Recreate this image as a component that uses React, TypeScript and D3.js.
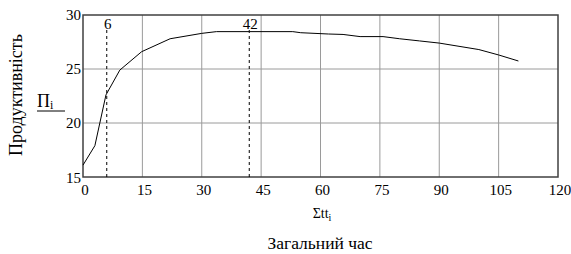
import React, { useEffect, useRef } from 'react';
import * as d3 from 'd3';

// загальний час (Σtt_i) та продуктивність (П_i)
const timeValues = [0, 3, 5.8, 9.3, 14.8, 22, 30, 33.7, 42, 53, 55, 62, 65.7, 70, 75.8, 80, 85, 90, 100, 105, 110];
const productivity = [16.1, 17.9, 22.6, 24.9, 26.6, 27.8, 28.3, 28.46, 28.46, 28.46, 28.36, 28.24, 28.2, 28.0, 28.0, 27.8, 27.6, 27.4, 26.8, 26.3, 25.74];
const xTicks = [0, 15, 30, 45, 60, 75, 90, 105, 120];
const yTicks = [15, 20, 25, 30];
const markers = [6, 42];

const App = () => {
  const svgRef = useRef<SVGSVGElement>(null);

  useEffect(() => {
    const width = 571;
    const height = 254;
    const m = { left: 83, right: 558, top: 15, bottom: 177 };
    const font = "'Liberation Serif', serif";

    const svg = d3.select(svgRef.current);
    svg.selectAll('*').remove();
    svg.attr('width', width).attr('height', height)
      .attr('font-family', font);

    const x = d3.scaleLinear().domain([0, 120]).range([m.left, m.right]);
    const y = d3.scaleLinear().domain([15, 30]).range([m.bottom, m.top]);

    // сітка
    svg.append('g').selectAll('line')
      .data(xTicks.slice(1, -1))
      .enter().append('line')
      .attr('x1', d => x(d)).attr('x2', d => x(d))
      .attr('y1', m.top).attr('y2', m.bottom)
      .attr('stroke', '#9a9a9a').attr('stroke-width', 1);
    svg.append('g').selectAll('line')
      .data(yTicks.slice(1, -1))
      .enter().append('line')
      .attr('x1', m.left).attr('x2', m.right)
      .attr('y1', d => y(d)).attr('y2', d => y(d))
      .attr('stroke', '#9a9a9a').attr('stroke-width', 1);

    // рамка
    svg.append('rect')
      .attr('x', m.left).attr('y', m.top)
      .attr('width', m.right - m.left).attr('height', m.bottom - m.top)
      .attr('fill', 'none').attr('stroke', '#404040').attr('stroke-width', 1.5);

    // маркери
    svg.append('g').selectAll('line')
      .data(markers)
      .enter().append('line')
      .attr('x1', d => x(d)).attr('x2', d => x(d))
      .attr('y1', 30).attr('y2', m.bottom)
      .attr('stroke', '#000').attr('stroke-width', 1)
      .attr('stroke-dasharray', '3,3');
    svg.append('g').selectAll('text')
      .data(markers)
      .enter().append('text')
      .attr('x', d => x(d) + 1).attr('y', 29)
      .attr('text-anchor', 'middle')
      .attr('font-size', 15)
      .text(d => d);

    // крива
    const line = d3.line<number>()
      .x((d, i) => x(timeValues[i]))
      .y(d => y(d));
    svg.append('path')
      .datum(productivity)
      .attr('d', line)
      .attr('fill', 'none').attr('stroke', '#000').attr('stroke-width', 1);

    // підписи осей
    svg.append('g').selectAll('text')
      .data(xTicks)
      .enter().append('text')
      .attr('x', d => x(d) + 2).attr('y', 195)
      .attr('text-anchor', 'middle')
      .attr('font-size', 15)
      .text(d => d);
    svg.append('g').selectAll('text')
      .data(yTicks)
      .enter().append('text')
      .attr('x', 81).attr('y', d => y(d) + (d === 15 ? 6 : 5))
      .attr('text-anchor', 'end')
      .attr('font-size', 15)
      .text(d => d);

    const xl = svg.append('text')
      .attr('x', 322).attr('y', 218)
      .attr('text-anchor', 'middle')
      .attr('font-size', 14);
    xl.append('tspan').text('Σtt');
    xl.append('tspan').attr('dy', 3).attr('font-size', 10).text('i');

    svg.append('text')
      .attr('x', 320).attr('y', 249)
      .attr('text-anchor', 'middle')
      .attr('font-size', 17.5)
      .text('Загальний час');

    const yl = svg.append('text')
      .attr('x', 37).attr('y', 107)
      .attr('font-size', 18);
    yl.append('tspan').text('П');
    yl.append('tspan').attr('dy', 2).attr('font-size', 12).text('i');
    svg.append('line')
      .attr('x1', 37).attr('x2', 65).attr('y1', 111).attr('y2', 111)
      .attr('stroke', '#000').attr('stroke-width', 1);

    svg.append('text')
      .attr('transform', 'translate(22,95) rotate(-90)')
      .attr('text-anchor', 'middle')
      .attr('font-size', 18)
      .text('Продуктивність');
  }, []);

  return (
    <svg ref={svgRef} style={{ position: 'absolute', left: 0, top: 0, background: '#fff' }}></svg>
  );
};

export default App;
